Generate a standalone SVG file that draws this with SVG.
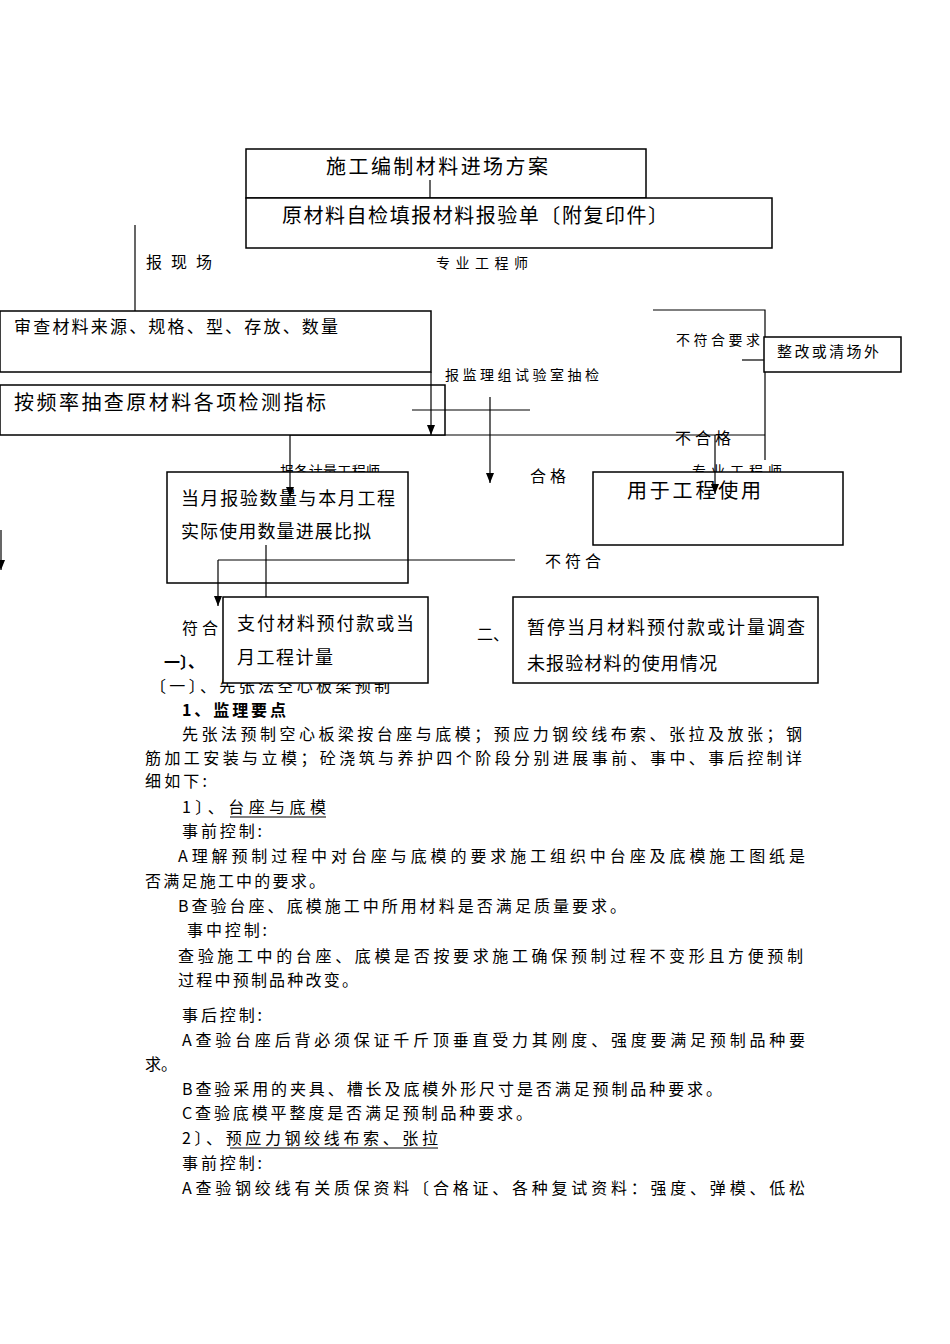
<svg xmlns="http://www.w3.org/2000/svg" width="950" height="1344" viewBox="0 0 950 1344">
<style>
text{font-family:"Noto Sans CJK SC","Liberation Serif",serif;fill:#000}
.b{fill:#fff;stroke:#000;stroke-width:1.5}
.l{stroke:#000;stroke-width:1.2;fill:none}
.t{font-size:16px}
.s{font-size:14px}
</style>
<defs><marker id="a" markerWidth="10" markerHeight="8" refX="10" refY="4" orient="auto" markerUnits="userSpaceOnUse"><path d="M0,0 L10,4 L0,8 Z" fill="#000"/></marker></defs>
<rect width="950" height="1344" fill="#fff"/>
<g id="hidden-labels">
<text x="280" y="476" class="s" textLength="100" lengthAdjust="spacing">报各计量工程师</text>
<text x="692" y="476" class="s" textLength="90" lengthAdjust="spacing">专业工程师</text>
<text x="150" y="692" class="t" textLength="240" lengthAdjust="spacing">〔一〕、先张法空心板梁预制</text>
</g>
<g id="connectors">
<line class="l" x1="135" y1="225" x2="135" y2="312"/>
<line class="l" x1="412" y1="410" x2="530" y2="410"/>
<line class="l" x1="490" y1="397" x2="490" y2="483" marker-end="url(#a)"/>
<line class="l" x1="290" y1="435" x2="765" y2="435"/>
<polyline class="l" points="653,310 765,310 765,460"/>
<line class="l" x1="742" y1="360" x2="764" y2="360"/>
<line class="l" x1="1" y1="530" x2="1" y2="570" marker-end="url(#a)"/>
<polyline class="l" points="515,560 218,560 218,606" marker-end="url(#a)"/>
<line class="l" x1="266" y1="545" x2="266" y2="627"/>
<line class="l" x1="290" y1="435" x2="290" y2="472"/>
</g>
<g id="n1"><rect class="b" x="246" y="149" width="400" height="49"/><text x="326" y="174" style="font-size:20px" textLength="222" lengthAdjust="spacing">施工编制材料进场方案</text></g>
<line class="l" x1="430" y1="180" x2="430" y2="198"/>
<g id="n2"><rect class="b" x="246" y="198" width="526" height="50"/><text x="282" y="223" style="font-size:20px" textLength="386" lengthAdjust="spacing">原材料自检填报材料报验单〔附复印件〕</text></g>
<text x="146" y="268" class="t" textLength="66" lengthAdjust="spacing">报现场</text>
<text x="436" y="268" class="s" textLength="92" lengthAdjust="spacing">专业工程师</text>
<g id="n3"><rect class="b" x="0" y="311" width="431" height="61"/><text x="14" y="333" style="font-size:17px" textLength="324" lengthAdjust="spacing">审查材料来源、规格、型、存放、数量</text></g>
<g id="n4"><rect class="b" x="0" y="385" width="445" height="50"/><text x="14" y="410" style="font-size:20px" textLength="312" lengthAdjust="spacing">按频率抽查原材料各项检测指标</text></g>
<line class="l" x1="431" y1="372" x2="431" y2="435" marker-end="url(#a)"/>
<line class="l" x1="412" y1="410" x2="445" y2="410"/>
<text x="445" y="380" class="s" textLength="154" lengthAdjust="spacing">报监理组试验室抽检</text>
<text x="676" y="345" class="s" textLength="84" lengthAdjust="spacing">不符合要求</text>
<g id="n5"><rect class="b" x="764" y="337" width="137" height="35"/><text x="777" y="357" style="font-size:15px" textLength="102" lengthAdjust="spacing">整改或清场外</text></g>
<text x="675" y="444" class="t" textLength="56" lengthAdjust="spacing">不合格</text>
<text x="530" y="482" class="t" textLength="36" lengthAdjust="spacing">合格</text>
<g id="n6"><rect class="b" x="167" y="472" width="241" height="111"/><text x="181" y="505" style="font-size:18px" textLength="214" lengthAdjust="spacing">当月报验数量与本月工程</text><text x="181" y="538" style="font-size:18px" textLength="190" lengthAdjust="spacing">实际使用数量进展比拟</text></g>
<line class="l" x1="290" y1="472" x2="290" y2="497" marker-end="url(#a)"/>
<g id="n7"><rect class="b" x="593" y="472" width="250" height="73"/><text x="627" y="498" style="font-size:20px" textLength="134" lengthAdjust="spacing">用于工程使用</text></g>
<line class="l" x1="715" y1="435" x2="715" y2="494" marker-end="url(#a)"/>
<line class="l" x1="218" y1="560" x2="408" y2="560"/>
<line class="l" x1="218" y1="560" x2="218" y2="583"/>
<line class="l" x1="266" y1="545" x2="266" y2="583"/>
<text x="545" y="567" class="t" textLength="56" lengthAdjust="spacing">不符合</text>
<text x="182" y="634" class="t" textLength="36" lengthAdjust="spacing">符合</text>
<text x="164" y="668" class="t" font-weight="bold">一〕、</text>
<g id="n8"><rect class="b" x="223" y="597" width="205" height="86"/><text x="237" y="630" style="font-size:18px" textLength="177" lengthAdjust="spacing">支付材料预付款或当</text><text x="237" y="664" style="font-size:18px" textLength="96" lengthAdjust="spacing">月工程计量</text></g>
<text x="477" y="640" class="t">二、</text>
<g id="n9"><rect class="b" x="513" y="597" width="305" height="86"/><text x="527" y="634" style="font-size:18px" textLength="278" lengthAdjust="spacing">暂停当月材料预付款或计量调查</text><text x="527" y="670" style="font-size:18px" textLength="190" lengthAdjust="spacing">未报验材料的使用情况</text></g>
<g id="body" class="t">
<text x="182" y="716" font-weight="bold" textLength="104" lengthAdjust="spacing">1、监理要点</text>
<text x="182" y="740" textLength="620" lengthAdjust="spacing">先张法预制空心板梁按台座与底模；预应力钢绞线布索、张拉及放张；钢</text>
<text x="145" y="764" textLength="657" lengthAdjust="spacing">筋加工安装与立模；砼浇筑与养护四个阶段分别进展事前、事中、事后控制详</text>
<text x="145" y="787" textLength="62" lengthAdjust="spacing">细如下:</text>
<text x="182" y="813" textLength="144" lengthAdjust="spacing">1〕、台座与底模</text>
<line class="l" x1="230" y1="817" x2="326" y2="817"/>
<text x="182" y="837" textLength="80" lengthAdjust="spacing">事前控制:</text>
<text x="178" y="862" textLength="627" lengthAdjust="spacing">A理解预制过程中对台座与底模的要求施工组织中台座及底模施工图纸是</text>
<text x="145" y="887" textLength="180" lengthAdjust="spacing">否满足施工中的要求。</text>
<text x="178" y="912" textLength="448" lengthAdjust="spacing">B查验台座、底模施工中所用材料是否满足质量要求。</text>
<text x="187" y="936" textLength="80" lengthAdjust="spacing">事中控制:</text>
<text x="178" y="962" textLength="625" lengthAdjust="spacing">查验施工中的台座、底模是否按要求施工确保预制过程不变形且方便预制</text>
<text x="178" y="986" textLength="180" lengthAdjust="spacing">过程中预制品种改变。</text>
<text x="182" y="1021" textLength="80" lengthAdjust="spacing">事后控制:</text>
<text x="182" y="1046" textLength="623" lengthAdjust="spacing">A查验台座后背必须保证千斤顶垂直受力其刚度、强度要满足预制品种要</text>
<text x="145" y="1070">求。</text>
<text x="182" y="1095" textLength="540" lengthAdjust="spacing">B查验采用的夹具、槽长及底模外形尺寸是否满足预制品种要求。</text>
<text x="182" y="1119" textLength="350" lengthAdjust="spacing">C查验底模平整度是否满足预制品种要求。</text>
<text x="182" y="1144" textLength="256" lengthAdjust="spacing">2〕、预应力钢绞线布索、张拉</text>
<line class="l" x1="230" y1="1148" x2="438" y2="1148"/>
<text x="182" y="1169" textLength="80" lengthAdjust="spacing">事前控制:</text>
<text x="182" y="1194" textLength="623" lengthAdjust="spacing">A查验钢绞线有关质保资料〔合格证、各种复试资料：强度、弹模、低松</text>
</g>
</svg>
